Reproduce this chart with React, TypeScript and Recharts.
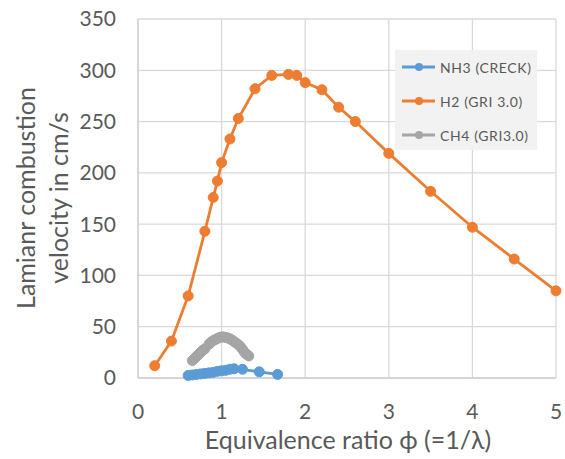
import React from 'react';
import { LineChart, Line, XAxis, YAxis, CartesianGrid } from 'recharts';

const nh3Phi = [0.6, 0.65, 0.7, 0.75, 0.8, 0.85, 0.9, 0.95, 1.0, 1.05, 1.1, 1.15, 1.25, 1.45, 1.67];
const nh3Speed = [2.5, 3, 3.5, 4, 4.5, 5, 5.5, 6.5, 7, 7.5, 8.5, 9, 8.5, 6, 3.5];

const h2Phi = [0.2, 0.4, 0.6, 0.8, 0.9, 0.95, 1.0, 1.1, 1.2, 1.4, 1.6, 1.8, 1.9, 2.0, 2.2, 2.4, 2.6, 3.0, 3.5, 4.0, 4.5, 5.0];
const h2Speed = [12, 36, 80, 143, 176, 192, 210, 233, 253, 282, 295, 296, 295, 288, 281, 264, 250, 219, 182, 147, 116, 85];

const ch4Phi = [0.65, 0.675, 0.7, 0.725, 0.75, 0.775, 0.8, 0.85, 0.875, 0.9, 0.925, 0.95, 0.975, 1.0, 1.025, 1.05, 1.075, 1.1, 1.125, 1.15, 1.175, 1.2, 1.225, 1.25, 1.275, 1.3, 1.325];
const ch4Speed = [17, 19, 21, 23, 25, 27, 28.5, 33, 35, 36.5, 37.5, 38.5, 39.5, 40, 40, 39.5, 39, 38, 37, 35.5, 34, 32.5, 30.5, 28, 25, 23, 21.5];

const xTicks = [0, 1, 2, 3, 4, 5];
const yTicks = [0, 50, 100, 150, 200, 250, 300, 350];

const seriesNames = ['NH3 (CRECK)', 'H2 (GRI 3.0)', 'CH4 (GRI3.0)'];
const seriesColors = ['#5b9bd5', '#ed7d31', '#a5a5a5'];

const xTitle = 'Equivalence ratio \u03d5 (=1/\u03bb)';
const yTitleLines = ['Lamianr combustion', 'velocity in cm/s'];

const toPoints = (xs: number[], ys: number[]) => xs.map((x, i) => ({ x, y: ys[i] }));

const seriesData = [toPoints(nh3Phi, nh3Speed), toPoints(h2Phi, h2Speed), toPoints(ch4Phi, ch4Speed)];

const FONT = 'Lato, "Open Sans", sans-serif';
const TEXT = '#595959';
const GRID = '#d9d9d9';

const LegendBox = () => (
  <div style={{ position: 'absolute', left: 395, top: 50, width: 142, height: 100, background: '#f2f2f2' }}>
    {seriesNames.map((name, i) => (
      <div key={name} style={{ position: 'absolute', left: 0, top: 17 + i * 34 - 10, height: 20, display: 'flex', alignItems: 'center' }}>
        <svg width={45} height={20} style={{ display: 'block' }}>
          <line x1={7} y1={10} x2={40} y2={10} stroke={seriesColors[i]} strokeWidth={2.8} />
          <circle cx={24} cy={10} r={4} fill={seriesColors[i]} />
        </svg>
        <span style={{ fontFamily: FONT, fontSize: 14, color: TEXT, letterSpacing: 0.6, whiteSpace: 'nowrap' }}>{name}</span>
      </div>
    ))}
  </div>
);

const YTitle = () => (
  <g>
    {yTitleLines.map((t, i) => (
      <text
        key={t}
        x={25 + i * 33}
        y={198}
        transform={`rotate(-90, ${25 + i * 33}, 198)`}
        textAnchor="middle"
        dominantBaseline="central"
        fill={TEXT}
        fontFamily={FONT}
        fontSize={25}
      >
        {t}
      </text>
    ))}
  </g>
);

const XTitle = () => (
  <text x={348} y={449} textAnchor="middle" fill={TEXT} fontFamily={FONT} fontSize={25}>
    {xTitle}
  </text>
);

export default function App() {
  return (
    <div style={{ position: 'absolute', left: 0, top: 0, width: 565, height: 459, background: '#fff' }}>
      <LineChart width={565} height={459} margin={{ top: 19, right: 9, left: 0, bottom: 0 }}>
        <CartesianGrid stroke={GRID} strokeWidth={1.3} />
        <XAxis
          type="number"
          dataKey="x"
          domain={[0, 5]}
          ticks={xTicks}
          height={81}
          tickLine={false}
          tickSize={0}
          tickMargin={26}
          axisLine={{ stroke: '#d0d0d0', strokeWidth: 1.3 }}
          tick={{ fill: TEXT, fontSize: 21, fontFamily: FONT }}
          label={{ content: XTitle }}
        />
        <YAxis
          type="number"
          domain={[0, 350]}
          ticks={yTicks}
          width={138}
          tickLine={false}
          tickSize={0}
          tickMargin={22}
          axisLine={{ stroke: '#d0d0d0', strokeWidth: 1.3 }}
          tick={{ fill: TEXT, fontSize: 21, fontFamily: FONT }}
          label={{ content: YTitle }}
        />
        {seriesData.map((d, i) => (
          <Line
            key={seriesNames[i]}
            data={d}
            dataKey="y"
            name={seriesNames[i]}
            type="linear"
            stroke={seriesColors[i]}
            strokeWidth={2.8}
            dot={{ r: 5, fill: seriesColors[i], stroke: seriesColors[i], strokeWidth: 1 }}
            isAnimationActive={false}
          />
        ))}
      </LineChart>
      <LegendBox />
    </div>
  );
}
